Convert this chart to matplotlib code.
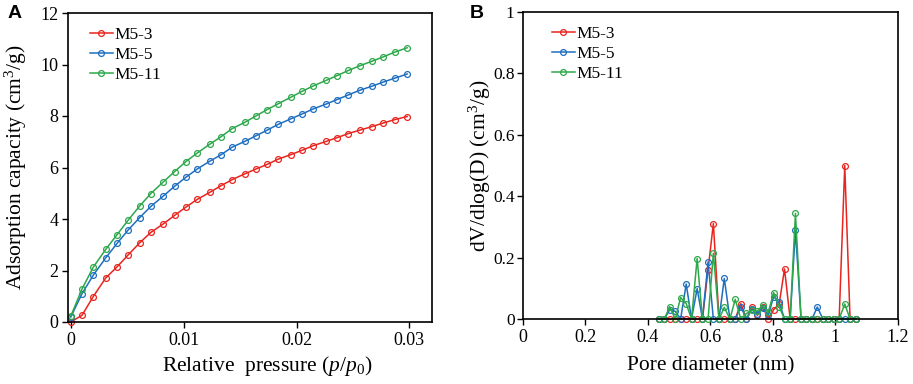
import matplotlib
matplotlib.use("Agg")
import matplotlib.pyplot as plt

plt.rcParams['font.family'] = ['Liberation Serif', 'DejaVu Serif']
plt.rcParams['mathtext.fontset'] = 'custom'
plt.rcParams['mathtext.rm'] = 'Liberation Serif'
plt.rcParams['mathtext.it'] = 'Liberation Serif:italic'
plt.rcParams['mathtext.bf'] = 'Liberation Serif:bold'

# ---------------- data: panel A ----------------
pressure = [0.0, 0.001, 0.002, 0.0031, 0.0041, 0.0051, 0.0061, 0.0071, 0.0082, 0.0092,
            0.0102, 0.0112, 0.0123, 0.0133, 0.0143, 0.0154, 0.0164, 0.0174, 0.0184, 0.0195,
            0.0205, 0.0215, 0.0226, 0.0236, 0.0246, 0.0256, 0.0267, 0.0277, 0.0287, 0.0298]
ads_m5_3 = [0.0, 0.26, 0.99, 1.71, 2.14, 2.61, 3.07, 3.48, 3.81, 4.14,
            4.46, 4.76, 5.03, 5.29, 5.53, 5.75, 5.94, 6.12, 6.33, 6.50,
            6.67, 6.85, 7.01, 7.16, 7.32, 7.45, 7.59, 7.73, 7.86, 7.98]
ads_m5_5 = [0.19, 1.10, 1.82, 2.49, 3.05, 3.58, 4.05, 4.49, 4.89, 5.27,
            5.62, 5.94, 6.24, 6.49, 6.79, 7.01, 7.23, 7.45, 7.68, 7.89,
            8.08, 8.28, 8.46, 8.64, 8.82, 9.00, 9.16, 9.32, 9.47, 9.63]
ads_m5_11 = [0.22, 1.28, 2.13, 2.82, 3.39, 3.96, 4.50, 4.99, 5.44, 5.84,
             6.23, 6.56, 6.90, 7.19, 7.51, 7.75, 8.00, 8.25, 8.48, 8.73,
             8.96, 9.17, 9.38, 9.57, 9.77, 9.95, 10.13, 10.30, 10.48, 10.65]

# ---------------- data: panel B ----------------
pore_d = [0.435, 0.453, 0.470, 0.488, 0.505, 0.523, 0.540, 0.558, 0.575, 0.593,
          0.610, 0.628, 0.645, 0.663, 0.680, 0.698, 0.716, 0.733, 0.751, 0.768,
          0.786, 0.803, 0.821, 0.838, 0.856, 0.873, 0.891, 0.908, 0.926, 0.943,
          0.961, 0.978, 0.996, 1.013, 1.031, 1.048, 1.066]
psd_m5_3 = [0, 0, 0, 0, 0, 0, 0, 0, 0, 0.161,
            0.311, 0, 0, 0, 0, 0.050, 0, 0.039, 0.012, 0.040,
            0, 0.030, 0.050, 0.163, 0, 0, 0, 0, 0, 0,
            0, 0, 0, 0, 0.500, 0, 0]
psd_m5_5 = [0, 0, 0.030, 0.025, 0, 0.114, 0, 0.099, 0, 0.186,
            0, 0, 0.132, 0, 0, 0.039, 0, 0.032, 0.017, 0.036,
            0.012, 0.073, 0.054, 0, 0, 0.289, 0, 0, 0, 0.039,
            0, 0, 0, 0, 0, 0, 0]
psd_m5_11 = [0, 0, 0.040, 0, 0.070, 0.050, 0, 0.197, 0, 0,
             0.214, 0, 0.038, 0, 0.064, 0, 0.018, 0.028, 0.026, 0.044,
             0.022, 0.086, 0.039, 0, 0, 0.344, 0, 0, 0, 0,
             0, 0, 0, 0, 0.049, 0, 0]

labels = ['M5-3', 'M5-5', 'M5-11']
colors = ['#E8251F', '#1F6FC0', '#2DA84A']

fig = plt.figure(figsize=(9.13, 3.84), dpi=100)
axA = fig.add_axes([68 / 913, 1 - 322 / 384, 364 / 913, 309 / 384])
axB = fig.add_axes([523 / 913, 1 - 319 / 384, 374.5 / 913, 307 / 384])

mk = dict(marker='o', markersize=4.2, markerfacecolor='none', markeredgewidth=0.9, linewidth=1.1)

for ys, c, lab in zip([ads_m5_3, ads_m5_5, ads_m5_11], colors, labels):
    axA.plot(pressure, ys, color=c, label=lab, clip_on=False, **mk)
for ys, c, lab in zip([psd_m5_3, psd_m5_5, psd_m5_11], colors, labels):
    axB.plot(pore_d, ys, color=c, label=lab, clip_on=False, **mk)

axA.set_xlim(-0.00024, 0.032)
axA.set_ylim(0, 12)
axA.set_xticks([0, 0.01, 0.02, 0.03])
axA.set_xticklabels(['0', '0.01', '0.02', '0.03'])
axA.set_yticks([0, 2, 4, 6, 8, 10, 12])
axA.set_xlabel(r'Relative  pressure $(p/p_{\mathit{0}})$', fontsize=15.5)
axA.set_ylabel(r'Adsorption capacity (cm$^3$/g)', fontsize=15.5)
axA.xaxis.set_label_coords((267 - 68) / 364, (322 - 366) / 309)
axA.yaxis.set_label_coords((16 - 68) / 364, 0.5)

axB.set_xlim(0, 1.2)
axB.set_ylim(0, 1)
axB.set_xticks([0, 0.2, 0.4, 0.6, 0.8, 1.0, 1.2])
axB.set_xticklabels(['0', '0.2', '0.4', '0.6', '0.8', '1', '1.2'])
axB.set_yticks([0, 0.2, 0.4, 0.6, 0.8, 1.0])
axB.set_yticklabels(['0', '0.2', '0.4', '0.6', '0.8', '1'])
axB.set_xlabel('Pore diameter (nm)', fontsize=15.5)
axB.set_ylabel(r'dV/dlog(D) (cm$^3$/g)', fontsize=15.5)
axB.xaxis.set_label_coords((711 - 523) / 374.5, (319 - 366) / 307)
axB.yaxis.set_label_coords((480 - 523) / 374.5, 0.5)

for ax in (axA, axB):
    ax.xaxis.label.set_va('center')
    ax.yaxis.label.set_va('center')
    ax.tick_params(direction='out', length=4, width=1.0, labelsize=13, pad=3)
    for s in ax.spines.values():
        s.set_linewidth(1.2)
axB.tick_params(axis='y', labelsize=12.5, pad=2)

axA.legend(loc='upper left', bbox_to_anchor=((90 - 68) / 364, 0.955), frameon=False, fontsize=12.5,
           handlelength=1.3, handletextpad=0.1, labelspacing=0.22, borderaxespad=0, borderpad=0)
axB.legend(loc='upper left', bbox_to_anchor=((552 - 523) / 374.5, 0.955), frameon=False, fontsize=12.5,
           handlelength=1.3, handletextpad=0.1, labelspacing=0.22, borderaxespad=0, borderpad=0)

fig.text(8 / 913, 1 - 5 / 384, 'A', fontsize=14, fontweight='bold', family='Liberation Sans', va='top', ha='left')
fig.text(470 / 913, 1 - 5 / 384, 'B', fontsize=14, fontweight='bold', family='Liberation Sans', va='top', ha='left')

fig.savefig('out.png', dpi=100)
